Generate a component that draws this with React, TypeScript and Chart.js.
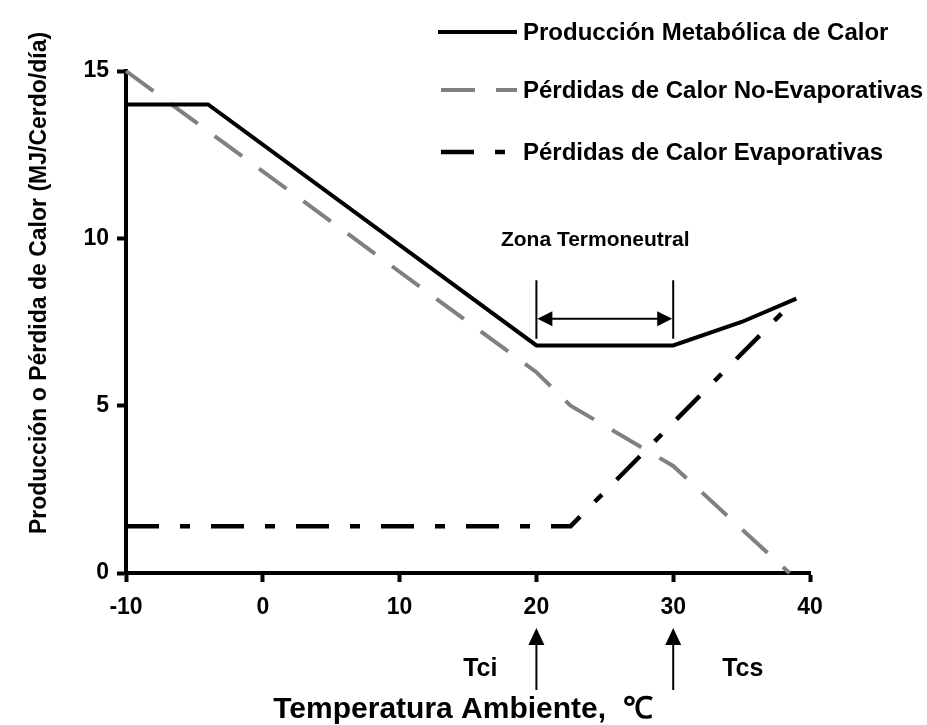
import React, { useEffect, useRef } from "react";
import { Chart, registerables } from "chart.js";

Chart.register(...registerables);

// ---- data ----
const metabolicX = [-10, -4, 20, 30, 35, 39];
const metabolicY = [14, 14, 6.8, 6.8, 7.5, 8.2];
const nonEvapX = [-10, 20, 22.5, 30, 38.5];
const nonEvapY = [15, 6, 5, 3.2, 0];
const evapX = [-10, 22.5, 39];
const evapY = [1.4, 1.4, 8.2];
const seriesNames = [
  "Producción Metabólica de Calor",
  "Pérdidas de Calor No-Evaporativas",
  "Pérdidas de Calor Evaporativas",
];
const xTicks = [-10, 0, 10, 20, 30, 40];
const yTicks = [0, 5, 10, 15];
const zoneLabel = "Zona Termoneutral";
const zoneLimits = [20, 30];
const limitLabels = ["Tci", "Tcs"];
const xTitle = "Temperatura Ambiente,  ℃";
const yTitle = "Producción o Pérdida de Calor (MJ/Cerdo/día)";

const FAMILY = "'Liberation Sans', Arial, Helvetica, sans-serif";

function toPoints(xs: number[], ys: number[]) {
  return xs.map((x, i) => ({ x, y: ys[i] }));
}

function arrowHead(ctx: CanvasRenderingContext2D, tx: number, ty: number, dx: number, dy: number, len: number, half: number) {
  const bx = tx - dx * len;
  const by = ty - dy * len;
  const px = -dy;
  const py = dx;
  ctx.beginPath();
  ctx.moveTo(tx, ty);
  ctx.lineTo(bx + px * half, by + py * half);
  ctx.lineTo(bx - px * half, by - py * half);
  ctx.closePath();
  ctx.fill();
}

const overlayPlugin = {
  id: "overlay",
  afterDraw(chart: any) {
    const { ctx, chartArea, scales } = chart;
    const xs = scales.x;
    const ys = scales.y;
    ctx.save();
    ctx.fillStyle = "#000";
    ctx.strokeStyle = "#000";
    ctx.setLineDash([]);

    // Zona termoneutral bracket
    const x1 = xs.getPixelForValue(zoneLimits[0]);
    const x2 = xs.getPixelForValue(zoneLimits[1]);
    const barTop = ys.getPixelForValue(8.75);
    const barBot = ys.getPixelForValue(7.0);
    const arrY = ys.getPixelForValue(7.6);
    ctx.lineWidth = 2;
    ctx.beginPath();
    ctx.moveTo(x1, barTop);
    ctx.lineTo(x1, barBot);
    ctx.moveTo(x2, barTop);
    ctx.lineTo(x2, barBot);
    ctx.moveTo(x1 + 8, arrY);
    ctx.lineTo(x2 - 8, arrY);
    ctx.stroke();
    arrowHead(ctx, x1 + 1, arrY, -1, 0, 15, 7.5);
    arrowHead(ctx, x2 - 1, arrY, 1, 0, 15, 7.5);

    ctx.font = `bold 21px ${FAMILY}`;
    ctx.textAlign = "center";
    ctx.textBaseline = "middle";
    ctx.fillText(zoneLabel, xs.getPixelForValue(24.3), ys.getPixelForValue(9.95));

    // Tci / Tcs arrows below axis
    const b = chartArea.bottom;
    [x1, x2].forEach((px) => {
      ctx.lineWidth = 2;
      ctx.beginPath();
      ctx.moveTo(px, b + 117);
      ctx.lineTo(px, b + 65);
      ctx.stroke();
      arrowHead(ctx, px, b + 55, 0, -1, 17, 8);
    });
    ctx.font = `bold 25px ${FAMILY}`;
    ctx.textAlign = "right";
    ctx.fillText(limitLabels[0], x1 - 39, b + 96);
    ctx.textAlign = "left";
    ctx.fillText(limitLabels[1], x2 + 49, b + 96);

    // Legend
    const rows = [32, 90, 152];
    chart.data.datasets.forEach((ds: any, i: number) => {
      const yRow = rows[i];
      ctx.save();
      ctx.strokeStyle = ds.borderColor;
      ctx.lineWidth = ds.borderWidth;
      ctx.setLineDash(ds.borderDash || []);
      ctx.lineCap = "butt";
      ctx.beginPath();
      ctx.moveTo(i === 0 ? 438 : 441, yRow);
      ctx.lineTo(517, yRow);
      ctx.stroke();
      ctx.restore();
      ctx.font = `bold 24px ${FAMILY}`;
      ctx.textAlign = "left";
      ctx.textBaseline = "middle";
      ctx.fillStyle = "#000";
      ctx.fillText(ds.label, 523, yRow + 1);
    });

    // Axis titles
    ctx.font = `bold 30px ${FAMILY}`;
    ctx.textAlign = "center";
    ctx.textBaseline = "middle";
    ctx.fillText(xTitle, 463, 710);

    ctx.save();
    ctx.translate(40, 283);
    ctx.rotate(-Math.PI / 2);
    ctx.font = `bold 23px ${FAMILY}`;
    ctx.fillText(yTitle, 0, 0);
    ctx.restore();

    ctx.restore();
  },
};

export default function App() {
  const canvasRef = useRef<HTMLCanvasElement | null>(null);

  useEffect(() => {
    const canvas = canvasRef.current;
    if (!canvas) return;
    const chart = new Chart(canvas, {
      type: "line",
      data: {
        datasets: [
          {
            label: seriesNames[0],
            data: toPoints(metabolicX, metabolicY),
            borderColor: "#000000",
            borderWidth: 4,
            pointRadius: 0,
            tension: 0,
            fill: false,
            clip: false as any,
          },
          {
            label: seriesNames[1],
            data: toPoints(nonEvapX, nonEvapY),
            borderColor: "#808080",
            borderWidth: 4,
            borderDash: [34, 21],
            pointRadius: 0,
            tension: 0,
            fill: false,
            clip: false as any,
          },
          {
            label: seriesNames[2],
            data: toPoints(evapX, evapY),
            borderColor: "#000000",
            borderWidth: 4.5,
            borderDash: [33, 21, 10, 21],
            pointRadius: 0,
            tension: 0,
            fill: false,
            clip: false as any,
          },
        ],
      },
      options: {
        animation: false,
        responsive: true,
        maintainAspectRatio: false,
        layout: { padding: { left: 0, right: 117, top: 71, bottom: 0 } },
        plugins: {
          legend: { display: false },
          tooltip: { enabled: false },
          title: { display: false },
        },
        scales: {
          x: {
            type: "linear",
            min: -10,
            max: 40,
            afterBuildTicks: (s: any) => {
              s.ticks = xTicks.map((v) => ({ value: v }));
            },
            afterFit: (s: any) => {
              s.height = 152;
            },
            ticks: {
              color: "#000",
              font: { family: FAMILY, size: 23, weight: "bold" },
              padding: 12,
              maxRotation: 0,
              autoSkip: false,
            },
            grid: {
              display: true,
              drawOnChartArea: false,
              drawTicks: true,
              tickLength: 9,
              tickWidth: 4,
              tickColor: "#000",
            },
            border: { display: true, color: "#000", width: 4 },
          },
          y: {
            type: "linear",
            min: 0,
            max: 15,
            afterBuildTicks: (s: any) => {
              s.ticks = yTicks.map((v) => ({ value: v }));
            },
            afterFit: (s: any) => {
              s.width = 126;
            },
            ticks: {
              color: "#000",
              font: { family: FAMILY, size: 23, weight: "bold" },
              padding: 8,
              autoSkip: false,
            },
            grid: {
              display: true,
              drawOnChartArea: false,
              drawTicks: true,
              tickLength: 9,
              tickWidth: 4,
              tickColor: "#000",
            },
            border: { display: true, color: "#000", width: 4 },
          },
        },
      },
      plugins: [overlayPlugin],
    });
    return () => chart.destroy();
  }, []);

  return (
    <div style={{ position: "absolute", left: 0, top: 0, width: 927, height: 725, background: "#fff" }}>
      <canvas ref={canvasRef} />
    </div>
  );
}
